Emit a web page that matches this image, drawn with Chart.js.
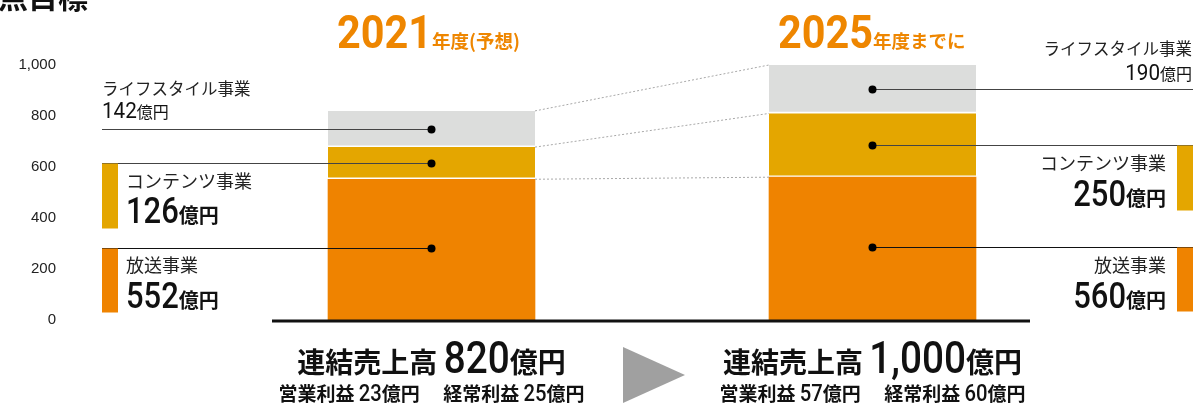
<!DOCTYPE html>
<html lang="ja">
<head>
<meta charset="utf-8">
<script src="https://cdn.jsdelivr.net/npm/chart.js@4/dist/chart.umd.min.js"></script>
<style>
  html, body { margin: 0; padding: 0; background: #fff; }
  canvas { display: block; }
</style>
</head>
<body>
<canvas id="salesChart" width="1195" height="405"></canvas>
<script>
// 年度ごとの売上構成（億円）
const years = ["2021", "2025"];
const yearNotes = ["年度(予想)", "年度までに"];
const segments = ["放送事業", "コンテンツ事業", "ライフスタイル事業"];
const broadcast = [552, 560];
const contents = [126, 250];
const lifestyle = [142, 190];
const totals = ["820", "1,000"];
const operatingProfit = [23, 57];
const ordinaryProfit = [25, 60];
const yTicks = [0, 200, 400, 600, 800, 1000];

const ORANGE = "#EF8300";
const YELLOW = "#E4A600";
const GREY = "#DCDDDC";
const JP = '"Noto Sans CJK JP"';
const NUM = "Roboto";

// 複数フォントの文字列を並べて描く（sx で横幅を詰める）
function drawRuns(ctx, runs, x, y, align, color) {
    ctx.save();
    ctx.fillStyle = color;
    ctx.textBaseline = "alphabetic";
    ctx.textAlign = "left";
    let total = 0;
    runs.forEach(r => {
        ctx.font = r.font;
        r.w = ctx.measureText(r.text).width * (r.sx || 1);
        total += r.w;
    });
    let cx = align === "right" ? x - total : align === "center" ? x - total / 2 : x;
    runs.forEach(r => {
        ctx.font = r.font;
        ctx.save();
        ctx.translate(cx, y);
        ctx.scale(r.sx || 1, 1);
        ctx.fillText(r.text, 0, 0);
        ctx.restore();
        cx += r.w;
    });
    ctx.restore();
}

// 各事業ラベルの配置
const leftLabels = {
    2: { x: 102, name: 95, value: 118, nameFont: `16.5px ${JP}`, numFont: `400 22px ${NUM}`, unitFont: `16px ${JP}`, sx: 0.94, bar: false },
    1: { x: 126, name: 188, value: 223, nameFont: `18px ${JP}`, numFont: `500 36px ${NUM}`, unitFont: `bold 20px ${JP}`, sx: 0.86, bar: true, color: YELLOW },
    0: { x: 126, name: 272, value: 308, nameFont: `18px ${JP}`, numFont: `500 36px ${NUM}`, unitFont: `bold 20px ${JP}`, sx: 0.86, bar: true, color: ORANGE }
};
const rightLabels = {
    2: { x: 1192, name: 55, value: 80, nameFont: `16.5px ${JP}`, numFont: `400 22px ${NUM}`, unitFont: `16px ${JP}`, sx: 0.94, bar: false },
    1: { x: 1166, name: 170, value: 206, nameFont: `18px ${JP}`, numFont: `500 36px ${NUM}`, unitFont: `bold 20px ${JP}`, sx: 0.86, bar: true, color: YELLOW },
    0: { x: 1166, name: 272, value: 308, nameFont: `18px ${JP}`, numFont: `500 36px ${NUM}`, unitFont: `bold 20px ${JP}`, sx: 0.86, bar: true, color: ORANGE }
};

const annotations = {
    id: "annotations",
    afterDatasetsDraw(chart) {
        const ctx = chart.ctx;
        const metas = [0, 1, 2].map(i => chart.getDatasetMeta(i));

        // 年度間をつなぐ点線
        ctx.save();
        ctx.strokeStyle = "#a8a8a8";
        ctx.lineWidth = 1;
        ctx.setLineDash([2, 2]);
        metas.forEach(meta => {
            const a = meta.data[0], b = meta.data[1];
            ctx.beginPath();
            ctx.moveTo(a.x + a.width / 2, a.y);
            ctx.lineTo(b.x - b.width / 2, b.y);
            ctx.stroke();
        });
        ctx.restore();

        // 引き出し線・ドット・ラベル
        metas.forEach((meta, di) => {
            meta.data.forEach((bar, bi) => {
                const my = Math.round((bar.y + bar.base) / 2) - (di === 0 ? 2 : 0) + 0.5;
                const lab = bi === 0 ? leftLabels[di] : rightLabels[di];
                const lineEnd = bi === 0 ? 102 : 1193;
                ctx.save();
                ctx.strokeStyle = di === 0 ? "#111" : "#444";
                ctx.lineWidth = 1.2;
                ctx.beginPath();
                ctx.moveTo(lineEnd, my);
                ctx.lineTo(bar.x, my);
                ctx.stroke();
                ctx.fillStyle = "#000";
                ctx.beginPath();
                ctx.arc(bar.x, my, 4, 0, Math.PI * 2);
                ctx.fill();
                if (lab.bar) {
                    ctx.fillStyle = lab.color;
                    const bx = bi === 0 ? 102 : 1177;
                    ctx.fillRect(bx, my, 16, di === 0 ? 64 : 65);
                }
                ctx.restore();

                const align = bi === 0 ? "left" : "right";
                const value = chart.data.datasets[di].data[bi];
                drawRuns(ctx, [{ text: segments[di], font: lab.nameFont }], lab.x, lab.name, align, "#222");
                drawRuns(ctx, [
                    { text: String(value), font: lab.numFont, sx: lab.sx },
                    { text: "億円", font: lab.unitFont }
                ], lab.x, lab.value, align, "#111");
            });
        });

        // 基線
        const y0 = chart.scales.y.getPixelForValue(0);
        ctx.save();
        ctx.fillStyle = "#111";
        ctx.fillRect(272, y0 - 0.5, 1030 - 272, 3);
        ctx.restore();

        // 年度見出しと合計
        const centers = metas[0].data.map(b => b.x);
        centers.forEach((cx, i) => {
            const left = metas[0].data[i].x - metas[0].data[i].width / 2;
            drawRuns(ctx, [
                { text: years[i], font: `bold 46px ${NUM}`, sx: 0.9 },
                { text: yearNotes[i], font: `bold 18.5px ${JP}` }
            ], left + 9, 48, "left", "#EE8600");

            drawRuns(ctx, [
                { text: "連結売上高 ", font: `bold 28px ${JP}` },
                { text: totals[i], font: `500 44px ${NUM}`, sx: 0.88 },
                { text: "億円", font: `bold 28px ${JP}` }
            ], cx, 373, "center", "#111");

            drawRuns(ctx, [
                { text: "営業利益 ", font: `bold 19px ${JP}` },
                { text: String(operatingProfit[i]), font: `500 23px ${NUM}`, sx: 0.88 },
                { text: "億円　 経常利益 ", font: `bold 19px ${JP}` },
                { text: String(ordinaryProfit[i]), font: `500 23px ${NUM}`, sx: 0.88 },
                { text: "億円", font: `bold 19px ${JP}` }
            ], cx, 401, "center", "#111");
        });

        // 矢印
        const mid = (centers[0] + centers[1]) / 2;
        ctx.save();
        ctx.fillStyle = "#a0a0a0";
        ctx.beginPath();
        ctx.moveTo(mid - 29, 347);
        ctx.lineTo(mid + 33, 375);
        ctx.lineTo(mid - 29, 403);
        ctx.closePath();
        ctx.fill();
        ctx.restore();

        // 左上の見出し（一部のみ表示）
        drawRuns(ctx, [{ text: "点目標", font: `bold 30px ${JP}` }], -2, 8, "left", "#111");
    }
};

const ctx = document.getElementById("salesChart").getContext("2d");
const segmentBorder = { top: 0, left: 0, right: 0, bottom: 2 };

const salesChart = new Chart(ctx, {
    type: "bar",
    data: {
        labels: years,
        datasets: [
            { label: segments[0], data: broadcast, backgroundColor: ORANGE, borderWidth: 0 },
            { label: segments[1], data: contents, backgroundColor: YELLOW, borderColor: "#fff", borderWidth: segmentBorder, borderSkipped: false },
            { label: segments[2], data: lifestyle, backgroundColor: GREY, borderColor: "#fff", borderWidth: segmentBorder, borderSkipped: false }
        ]
    },
    options: {
        responsive: false,
        animation: false,
        barThickness: 207,
        layout: { padding: { top: 65, right: 102, bottom: 85, left: 0 } },
        plugins: {
            legend: { display: false },
            tooltip: { enabled: false }
        },
        scales: {
            x: {
                stacked: true,
                display: false
            },
            y: {
                stacked: true,
                min: 0,
                max: 1000,
                // 目盛ラベルは左端に寄せ、プロット領域は棒の位置まで空ける
                afterFit: (scale) => {
                    scale.width = 211;
                    scale.paddingTop = 0;
                    scale.paddingBottom = 0;
                },
                afterBuildTicks: (scale) => { scale.ticks = yTicks.map(v => ({ value: v })); },
                grid: { display: false },
                border: { display: false },
                ticks: {
                    padding: 147,
                    color: "#222",
                    font: { family: "Liberation Sans", size: 15 },
                    callback: (v) => v.toLocaleString("en-US")
                }
            }
        }
    },
    plugins: [annotations]
});
</script>
</body>
</html>
